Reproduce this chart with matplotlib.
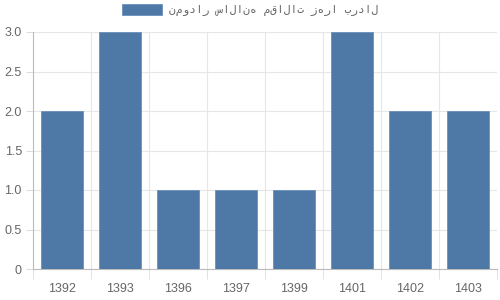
import matplotlib
matplotlib.use("Agg")
import matplotlib.pyplot as plt
import numpy as np

years = ["1392", "1393", "1396", "1397", "1399", "1401", "1402", "1403"]
counts = [2, 3, 1, 1, 1, 3, 2, 2]
legend_label = "نمودار سالانه مقالات زهرا بردال"

plt.rcParams["font.family"] = ["Liberation Sans", "DejaVu Sans"]
bar_color = "#4e79a7"
text_color = "#666666"

fig = plt.figure(figsize=(5, 3), dpi=100)
ax = fig.add_axes([33 / 500, 31 / 300, 464 / 500, 237 / 300])

x = np.arange(len(years))
ax.bar(x, counts, width=0.72, color=bar_color, edgecolor="#6a90bb", linewidth=0.6,
       label=legend_label, zorder=3)

ax.set_xlim(-0.5, len(years) - 0.5)
ax.set_ylim(0, 3)
ax.set_yticks(np.arange(0, 3.01, 0.5))
ax.set_yticklabels(["0", "0.5", "1.0", "1.5", "2.0", "2.5", "3.0"])
ax.set_xticks(x)
ax.set_xticklabels(years)
ax.set_xticks(np.arange(-0.5, len(years), 1), minor=True)

ax.tick_params(axis="x", which="major", length=0, pad=10, labelsize=9, colors=text_color)
ax.tick_params(axis="x", which="minor", length=7, color="#dddddd")
ax.tick_params(axis="y", length=5, labelsize=9, colors=text_color, pad=3)
ax.tick_params(axis="y", color="#dddddd")

ax.grid(True, axis="y", color="#e6e6e6", linewidth=0.8, zorder=0)
ax.grid(True, axis="x", which="minor", color="#e6e6e6", linewidth=0.8, zorder=0)
ax.grid(False, axis="x", which="major")

for side in ["top", "right"]:
    ax.spines[side].set_visible(False)
for side in ["left", "bottom"]:
    ax.spines[side].set_color("#bbbbbb")
    ax.spines[side].set_linewidth(0.8)

leg = fig.legend(loc="upper center", bbox_to_anchor=(0.5, 1.02), frameon=False,
                 handlelength=3.6, handleheight=1.1, labelcolor=text_color,
                 handletextpad=0.6, prop={"family": ["DejaVu Sans Mono", "DejaVu Sans"], "size": 8})

fig.savefig("out.png", dpi=100)
